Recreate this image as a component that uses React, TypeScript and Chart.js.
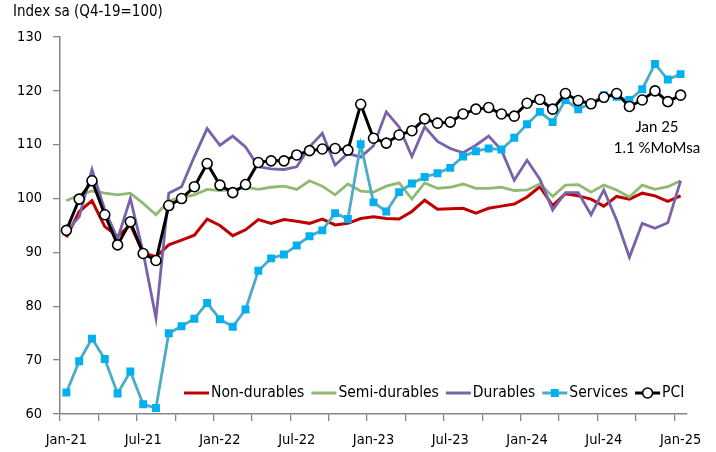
import React, { useEffect, useRef } from 'react';
import { Chart, registerables } from 'chart.js';
Chart.register(...registerables);

const categories = [
  'Jan-21','Feb-21','Mar-21','Apr-21','May-21','Jun-21','Jul-21','Aug-21','Sep-21','Oct-21','Nov-21','Dec-21',
  'Jan-22','Feb-22','Mar-22','Apr-22','May-22','Jun-22','Jul-22','Aug-22','Sep-22','Oct-22','Nov-22','Dec-22',
  'Jan-23','Feb-23','Mar-23','Apr-23','May-23','Jun-23','Jul-23','Aug-23','Sep-23','Oct-23','Nov-23','Dec-23',
  'Jan-24','Feb-24','Mar-24','Apr-24','May-24','Jun-24','Jul-24','Aug-24','Sep-24','Oct-24','Nov-24','Dec-24',
  'Jan-25',
];

const nonDurables = [92.8, 97.6, 99.6, 94.8, 93.0, 95.1, 89.9, 89.2, 91.4, 92.3, 93.2, 96.2,
  95.0, 93.1, 94.2, 96.1, 95.4, 96.1, 95.8, 95.4, 96.2, 95.1, 95.4, 96.3,
  96.6, 96.3, 96.2, 97.6, 99.7, 98.0, 98.1, 98.2, 97.3, 98.2, 98.6, 99.0,
  100.3, 102.2, 98.7, 100.9, 100.5, 99.9, 98.6, 100.4, 99.9, 101.0, 100.5, 99.5, 100.5];

const semiDurables = [99.6, 100.7, 101.4, 101.0, 100.7, 101.0, 99.1, 97.0, 99.6, 100.2, 100.7, 101.7,
  101.5, 101.6, 102.1, 101.7, 102.1, 102.3, 101.7, 103.3, 102.3, 100.7, 102.7, 101.4,
  101.2, 102.3, 102.9, 99.9, 102.9, 101.9, 102.1, 102.7, 101.9, 101.9, 102.1, 101.5,
  101.6, 102.7, 100.4, 102.5, 102.6, 101.2, 102.5, 101.6, 100.3, 102.5, 101.7, 102.2, 103.3];

const durables = [93.9, 96.6, 105.4, 97.9, 92.5, 100.0, 90.0, 77.8, 101.0, 102.2, 107.8, 113.0,
  109.9, 111.6, 109.6, 105.9, 105.5, 105.4, 105.9, 109.6, 112.1, 106.2, 108.4, 107.7,
  109.8, 116.1, 113.3, 107.8, 113.3, 110.6, 109.3, 108.5, 109.9, 111.6, 109.0, 103.4,
  107.1, 103.6, 97.9, 101.1, 101.1, 97.0, 101.6, 96.0, 89.1, 95.4, 94.5, 95.5, 103.3];

const services = [64.0, 69.8, 74.0, 70.2, 63.8, 67.9, 61.8, 61.1, 75.0, 76.3, 77.7, 80.6,
  77.6, 76.2, 79.4, 86.6, 88.9, 89.6, 91.3, 93.0, 94.1, 97.3, 96.2, 110.1,
  99.3, 97.6, 101.2, 102.8, 104.0, 104.7, 105.7, 107.8, 108.8, 109.3, 109.1, 111.3,
  113.8, 116.1, 114.2, 118.3, 116.6, 117.7, 119.2, 118.9, 118.3, 120.3, 125.0, 122.1, 123.1];

const pci = [94.1, 99.9, 103.3, 97.0, 91.4, 95.7, 89.8, 88.5, 98.7, 100.0, 102.2, 106.5,
  102.5, 101.1, 102.6, 106.7, 107.0, 107.0, 108.1, 108.9, 109.2, 109.3, 109.0, 117.5,
  111.2, 110.3, 111.8, 112.6, 114.8, 114.0, 114.2, 115.7, 116.6, 116.9, 115.7, 115.3,
  117.7, 118.4, 116.6, 119.5, 118.2, 117.6, 118.8, 119.5, 117.1, 118.3, 120.0, 118.0, 119.2];

const yTicks = [60, 70, 80, 90, 100, 110, 120, 130];
const axisTitle = 'Index sa (Q4-19=100)';
const noteLines = ['Jan 25', '1.1 %MoMsa'];

const FONT = "'DejaVu Sans Condensed', 'DejaVu Sans', sans-serif";
const NOTE_FONT = "Lato, 'Liberation Sans', sans-serif";
const GRAY = '#868686';
const RED = '#C00000';
const GREEN = '#8FBA74';
const PURPLE = '#7A62AA';
const BLUE_LINE = '#4BACC6';
const BLUE_MARK = '#00B0F0';

type LegendItem = { label: string; color: string; marker: 'none' | 'rect' | 'circle' };
const legendItems: LegendItem[] = [
  { label: 'Non-durables', color: RED, marker: 'none' },
  { label: 'Semi-durables', color: GREEN, marker: 'none' },
  { label: 'Durables', color: PURPLE, marker: 'none' },
  { label: 'Services', color: BLUE_LINE, marker: 'rect' },
  { label: 'PCI', color: '#000', marker: 'circle' },
];

const overlayPlugin = {
  id: 'overlayText',
  afterDraw(chart: any) {
    const ctx = chart.ctx as CanvasRenderingContext2D;
    ctx.save();
    // axis title
    ctx.fillStyle = '#000';
    ctx.font = `15px ${FONT}`;
    ctx.textAlign = 'left';
    ctx.textBaseline = 'middle';
    ctx.fillText(axisTitle, 13, 12);

    // note
    ctx.font = `15px ${NOTE_FONT}`;
    ctx.textAlign = 'center';
    ctx.fillText(noteLines[0], 657, 127);
    ctx.fillText(noteLines[1], 657, 148.5);

    // legend
    ctx.font = `15.5px ${FONT}`;
    ctx.textAlign = 'left';
    let x = 184;
    const y = 393;
    for (const it of legendItems) {
      ctx.strokeStyle = it.color;
      ctx.lineWidth = 3;
      ctx.beginPath();
      ctx.moveTo(x, y);
      ctx.lineTo(x + 25, y);
      ctx.stroke();
      if (it.marker === 'rect') {
        ctx.fillStyle = BLUE_MARK;
        ctx.fillRect(x + 12.5 - 4, y - 4, 8, 8);
      } else if (it.marker === 'circle') {
        ctx.fillStyle = '#fff';
        ctx.strokeStyle = '#000';
        ctx.lineWidth = 1.6;
        ctx.beginPath();
        ctx.arc(x + 12.5, y, 5, 0, Math.PI * 2);
        ctx.fill();
        ctx.stroke();
      }
      ctx.fillStyle = '#000';
      ctx.fillText(it.label, x + 27, y);
      x = x + 27 + ctx.measureText(it.label).width + 7;
    }
    ctx.restore();
  },
};

export default function App() {
  const ref = useRef<HTMLCanvasElement>(null);
  useEffect(() => {
    Chart.defaults.font.family = FONT;
    const line = (label: string, data: number[], color: string, order: number, width = 2.8) => ({
      label, data, borderColor: color, backgroundColor: color, borderWidth: width,
      pointRadius: 0, tension: 0, order,
    });
    const chart = new Chart(ref.current!, {
      type: 'line',
      data: {
        labels: categories,
        datasets: [
          line('Non-durables', nonDurables, RED, 4, 3),
          line('Semi-durables', semiDurables, GREEN, 3, 2.8),
          line('Durables', durables, PURPLE, 2, 2.8),
          {
            label: 'Services', data: services, borderColor: BLUE_LINE, backgroundColor: BLUE_MARK,
            borderWidth: 2.8, tension: 0, order: 1,
            pointStyle: 'rect', pointRadius: 5.6, pointBorderWidth: 0,
            pointBackgroundColor: BLUE_MARK, pointBorderColor: BLUE_MARK,
          },
          {
            label: 'PCI', data: pci, borderColor: '#000', backgroundColor: '#fff',
            borderWidth: 3, tension: 0, order: 0,
            pointStyle: 'circle', pointRadius: 5, pointBorderWidth: 1.6,
            pointBackgroundColor: '#fff', pointBorderColor: '#000',
          },
        ] as any,
      },
      options: {
        responsive: false,
        animation: false,
        layout: { padding: { left: 0, top: 37, right: 29, bottom: 0 } },
        plugins: { legend: { display: false }, tooltip: { enabled: false }, title: { display: false } },
        scales: {
          x: {
            type: 'category',
            offset: true,
            grid: {
              offset: true, drawOnChartArea: false, drawTicks: true, tickLength: 7, lineWidth: 1.3,
              color: (c: any) => (c.index % 3 === 0 ? GRAY : 'rgba(0,0,0,0)'),
            },
            border: { display: true, color: GRAY, width: 1.5 },
            ticks: {
              autoSkip: false, maxRotation: 0, minRotation: 0, padding: 11, color: '#000',
              font: { size: 14.5 },
              callback: function (this: any, val: any, idx: number) {
                return idx % 6 === 0 ? categories[idx] : '';
              },
            },
            afterFit: (s: any) => { s.height = 38; },
          },
          y: {
            min: yTicks[0], max: yTicks[yTicks.length - 1],
            grid: { drawOnChartArea: false, drawTicks: true, tickLength: 7, color: GRAY, lineWidth: 1.3 },
            border: { display: true, color: GRAY, width: 1.5 },
            ticks: { stepSize: 10, padding: 11, color: '#000', font: { size: 14.5 } },
            afterFit: (s: any) => { s.width = 60; },
          },
        },
      },
      plugins: [overlayPlugin],
    });
    return () => chart.destroy();
  }, []);
  return (
    <div style={{ position: 'fixed', left: 0, top: 0, width: 716, height: 452, background: '#fff' }}>
      <canvas ref={ref} width={716} height={452} style={{ display: 'block' }} />
    </div>
  );
}
